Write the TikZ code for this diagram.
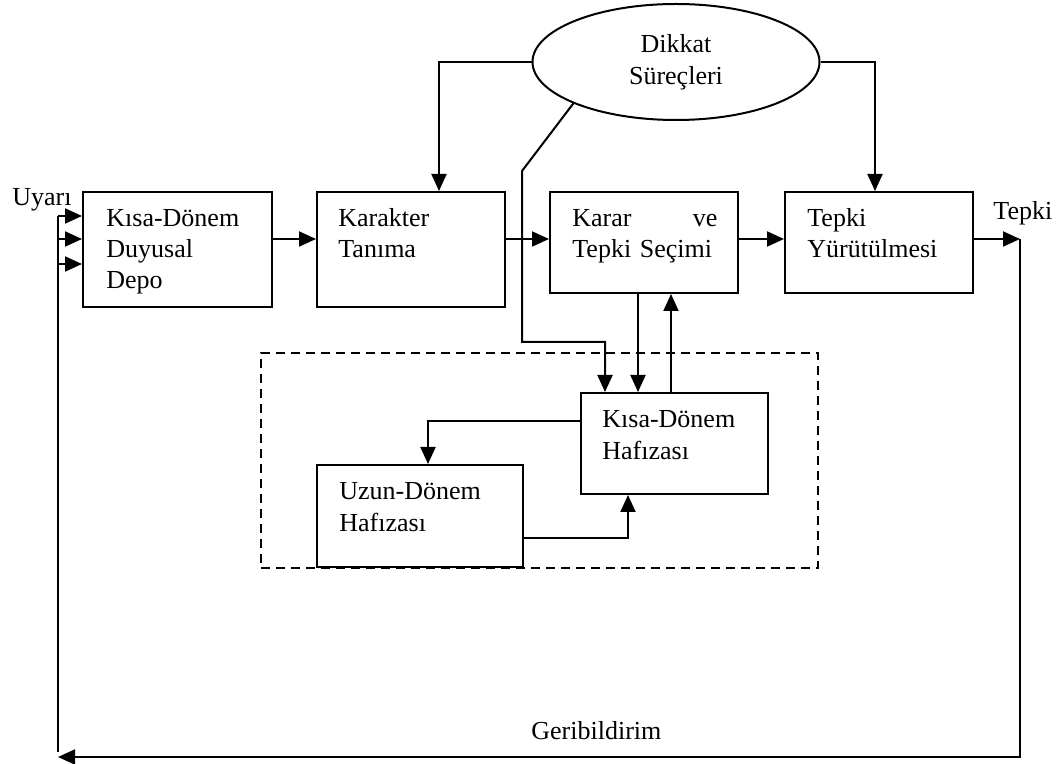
\documentclass[tikz,border=0pt]{standalone}
\usepackage{fontspec}
\setmainfont{Liberation Serif}
\usetikzlibrary{arrows.meta,fit,shapes.geometric}

\begin{document}
\begin{tikzpicture}[
  x=0.5pt, y=-0.5pt,
  box/.style={draw, line width=1pt, inner sep=0pt},
  dashbox/.style={draw, line width=1pt, dash pattern=on 4.5pt off 3pt, inner sep=0pt},
  txt/.style={inner sep=0pt, anchor=base west, align=left, text width=85pt,
              font=\fontsize{13}{15.3}\selectfont},
  lbl/.style={inner sep=0pt, anchor=base west, font=\fontsize{13}{15.3}\selectfont},
  line/.style={line width=1pt},
  arr/.style={line width=1pt, -{Triangle[length=8.5pt,width=7.5pt]}},
]
% canvas
\fill[white] (0,0) rectangle (1061,764);
\useasboundingbox (0,0) rectangle (1061,764);

% processing stages
\node[box, fit={(83,192) (272,307)}]  (ssd) {};
\node[box, fit={(317,192) (505,307)}] (kt)  {};
\node[box, fit={(550,192) (738,293)}] (kr)  {};
\node[box, fit={(785,192) (973,293)}] (ty)  {};

% memory subsystem
\node[dashbox, fit={(261,353) (818,568)}] (mem) {};
\node[box, fit={(581,393) (768,494)}] (stm) {};
\node[box, fit={(317,465) (523,567)}] (ltm) {};

% attention
\node[ellipse, draw, line width=1pt, inner sep=0pt,
      minimum width=143.5pt, minimum height=58pt, align=center,
      font=\fontsize{13}{16}\selectfont] (dk) at (676,62) {Dikkat\\Süreçleri};

% stage texts
\node[txt] (ssdT) at (106,227) {Kısa-Dönem\\Duyusal\\Depo};
\node[txt] (ktT)  at (338,227) {Karakter\\Tanıma};
\node[txt, text width=72.5pt] (krT) at (572,227) {Karar\hfill ve\\Tepki Seçimi};
\node[txt] (tyT)  at (807,227) {Tepki\\Yürütülmesi};
\node[txt, font=\fontsize{13}{16}\selectfont] (stmT) at (602,428) {Kısa-Dönem\\Hafızası};
\node[txt, font=\fontsize{13}{16}\selectfont] (ltmT) at (339,500) {Uzun-Dönem\\Hafızası};

% outer labels
\node[lbl] (uy) at (12,206)  {Uyarı};
\node[lbl] (tp) at (993,220) {Tepki};
\node[lbl] (gb) at (531,740) {Geribildirim};

% helper points
\coordinate (in1) at (58,216);
\coordinate (in2) at (58,239);
\coordinate (in3) at (58,264);
\coordinate (row) at (0,239);
\coordinate (out) at (1020,239);
\coordinate (fbR) at (1020,757);
\coordinate (fbL) at (58,757);
\coordinate (inB) at (58,752);
\coordinate (aL)  at (439,0);
\coordinate (aR)  at (875,0);
\coordinate (dg1) at (522,171);
\coordinate (dg2) at (522,342);
\coordinate (dg3) at (605,342);
\coordinate (sl)  at (428,421);
\coordinate (lr)  at (628,538);
\coordinate (c1)  at (638,0);
\coordinate (c2)  at (671,0);

% stimulus input
\draw[line] (in1) -- (inB);
\draw[arr] (in1) -- (in1 -| ssd.west);
\draw[arr] (in2) -- (in2 -| ssd.west);
\draw[arr] (in3) -- (in3 -| ssd.west);

% main chain
\draw[arr] (row -| ssd.east) -- (row -| kt.west);
\draw[arr] (row -| kt.east) -- (row -| kr.west);
\draw[arr] (row -| kr.east) -- (row -| ty.west);
\draw[arr] (row -| ty.east) -- (out);

% feedback
\draw[arr] (out) -- (fbR) -- (fbL);

% attention links
\draw[arr] (dk.west) -| (aL |- kt.north);
\draw[arr] (dk.east) -| (aR |- ty.north);
\draw[arr] (dk.202) -- (dg1) -- (dg2) -- (dg3) -- (dg3 |- stm.north);

% decision <-> short-term memory
\draw[arr] (c1 |- kr.south) -- (c1 |- stm.north);
\draw[arr] (c2 |- stm.north) -- (c2 |- kr.south);

% short-term <-> long-term memory
\draw[arr] (stm.west |- sl) -- (sl) -- (sl |- ltm.north);
\draw[arr] (ltm.east |- lr) -- (lr) -- (lr |- stm.south);
\end{tikzpicture}
\end{document}
